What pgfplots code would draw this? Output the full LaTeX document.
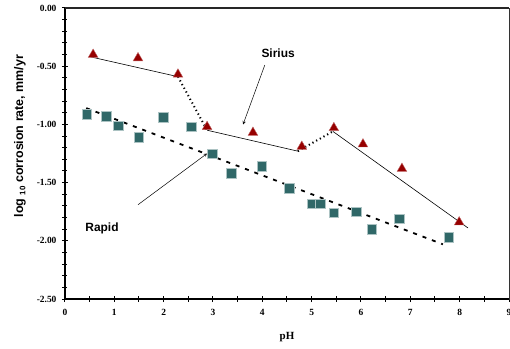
\documentclass[border=0pt]{standalone}
\usepackage{pgfplots}
\pgfplotsset{compat=1.18}
\usepackage{fontspec}
\setmainfont{Liberation Serif}
\newfontfamily\arial{Liberation Sans}
\definecolor{sir}{RGB}{150,0,0}
\definecolor{rap}{RGB}{48,104,104}
\begin{document}
\begin{tikzpicture}
\path[use as bounding box] (-65bp,-50bp) rectangle (445bp,299bp);
\begin{axis}[
  at={(0,0)}, anchor=south west,
  scale only axis, width=444bp, height=291bp,
  xmin=0, xmax=9, ymin=-2.5, ymax=0,
  xtick={0,1,...,9}, minor x tick num=1,
  ytick={-2.5,-2,-1.5,-1,-0.5,0}, minor y tick num=4,
  tick align=center, xtick pos=left, ytick pos=left,
  major tick length=6bp, minor tick length=5bp,
  every tick/.style={black, line width=1bp},
  axis line style={line width=0.6bp, black!80},
  clip=false,
  /pgf/number format/assume math mode=true,
  ticklabel style={font=\bfseries\fontsize{9.5}{11}\selectfont},
  yticklabel style={xshift=-2bp, /pgf/number format/.cd, fixed, fixed zerofill, precision=2},
  xticklabel style={yshift=-4bp},
  xlabel={\bfseries pH},
  xlabel style={at={(axis description cs:0.5,0)}, anchor=center, yshift=-38bp, font=\fontsize{11}{13}\selectfont},
  ylabel={\arial\bfseries log \raisebox{-0.35ex}{\fontsize{8}{9}\selectfont 10} corrosion rate, mm/yr},
  ylabel style={at={(axis description cs:0,0.56)}, anchor=center, yshift=45bp, font=\fontsize{12.5}{14}\selectfont},
]
% frame emphasis
\draw[line width=1.6bp, black] (rel axis cs:0,1) -- (rel axis cs:0,0) -- (rel axis cs:1,0);
\draw[line width=1.6bp, black!85] (rel axis cs:0,1) -- (rel axis cs:1,1);

% Rapid data
\addplot[only marks, mark=square*, mark size=4.8bp, mark options={fill=rap, draw=rap!40}] coordinates {
(0.44,-0.91) (0.83,-0.93) (1.08,-1.01) (1.49,-1.11) (1.99,-0.94) (2.56,-1.02) (2.98,-1.25)
(3.37,-1.42) (3.99,-1.36) (4.54,-1.55) (5.01,-1.68) (5.17,-1.68) (5.45,-1.76) (5.90,-1.75)
(6.22,-1.90) (6.77,-1.81) (7.78,-1.97)
};
% Sirius data
\addplot[only marks, mark=triangle*, mark size=5.6bp, mark options={fill=sir, draw=sir!60}] coordinates {
(0.57,-0.40) (1.48,-0.43) (2.29,-0.57) (2.88,-1.02) (3.81,-1.07) (4.80,-1.19) (5.45,-1.03)
(6.04,-1.17) (6.83,-1.38) (7.99,-1.84)
};

% Rapid fit (dashed)
\addplot[black, line width=1.8bp, dash pattern=on 4bp off 6bp] coordinates {(0.43,-0.86) (7.66,-2.03)};
% Sirius fit
\addplot[black, line width=0.6bp] coordinates {(0.52,-0.42) (2.29,-0.59)};
\addplot[black, line width=2bp, dash pattern=on 1.2bp off 3bp] coordinates {(2.29,-0.59) (2.88,-1.05)};
\addplot[black, line width=0.6bp] coordinates {(2.88,-1.05) (4.72,-1.23)};
\addplot[black, line width=2bp, dash pattern=on 1.2bp off 3bp] coordinates {(4.72,-1.23) (5.43,-1.06)};
\addplot[black, line width=0.6bp] coordinates {(5.43,-1.06) (8.17,-1.89)};

% annotations
\node[font=\arial\bfseries\fontsize{12}{14}\selectfont] at (axis cs:4.32,-0.39) {Sirius};
\draw[-stealth, line width=0.5bp] (axis cs:4.05,-0.49) -- (axis cs:3.61,-1.00);
\node[font=\arial\bfseries\fontsize{12}{14}\selectfont] at (axis cs:0.75,-1.89) {Rapid};
\draw[-stealth, line width=0.5bp] (axis cs:1.48,-1.69) -- (axis cs:2.88,-1.25);
\end{axis}
\end{tikzpicture}
\end{document}
